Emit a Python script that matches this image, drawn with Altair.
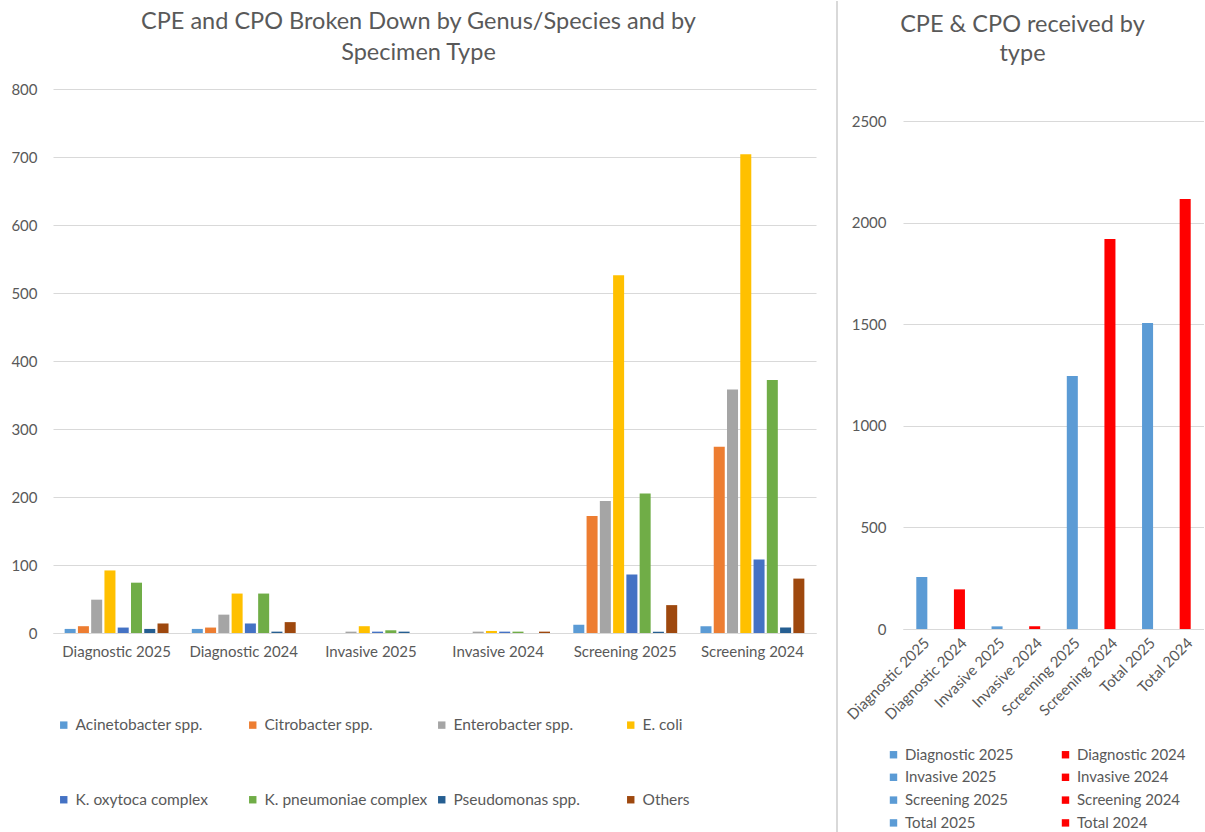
import altair as alt
import pandas as pd

categories = ["Diagnostic 2025", "Diagnostic 2024", "Invasive 2025", "Invasive 2024",
              "Screening 2025", "Screening 2024"]
organisms = ["Acinetobacter spp.", "Citrobacter spp.", "Enterobacter spp.", "E. coli",
             "K. oxytoca complex", "K. pneumoniae complex", "Pseudomonas spp.", "Others"]
org_colors = ["#5B9BD5", "#ED7D31", "#A5A5A5", "#FFC000", "#4472C4", "#70AD47", "#255E91", "#9E480E"]

acinetobacter = [6, 6, 0, 0, 12, 10]
citrobacter = [10, 8, 0, 0, 172, 274]
enterobacter = [49, 27, 2, 2, 194, 358]
e_coli = [92, 58, 10, 3, 526, 704]
k_oxytoca = [8, 14, 2, 2, 86, 108]
k_pneumoniae = [74, 58, 4, 2, 205, 372]
pseudomonas = [6, 2, 2, 0, 2, 8]
others = [14, 16, 0, 2, 41, 80]

type_labels = ["Diagnostic 2025", "Diagnostic 2024", "Invasive 2025", "Invasive 2024",
               "Screening 2025", "Screening 2024", "Total 2025", "Total 2024"]
type_totals = [256, 195, 13, 13, 1245, 1919, 1506, 2116]
type_colors = ["#5B9BD5", "#FF0000"] * 4

left_y_ticks = [0, 100, 200, 300, 400, 500, 600, 700, 800]
right_y_ticks = [0, 500, 1000, 1500, 2000, 2500]

series = [acinetobacter, citrobacter, enterobacter, e_coli, k_oxytoca, k_pneumoniae, pseudomonas, others]
rows = []
for org, vals in zip(organisms, series):
    for cat, v in zip(categories, vals):
        rows.append({"category": cat, "organism": org, "count": v})
df_left = pd.DataFrame(rows)
df_right = pd.DataFrame({"type": type_labels, "total": type_totals})

GRAY = "#595959"
GRID = "#D9D9D9"
FONT = "Lato"

left = alt.Chart(df_left).mark_bar().encode(
    x=alt.X("category:N", sort=categories,
            scale=alt.Scale(paddingInner=0.183, paddingOuter=0.0915),
            axis=alt.Axis(title=None, labelAngle=0, ticks=False, domainColor=GRID,
                          labelPadding=11, labelFontSize=15, labelColor=GRAY, labelFont=FONT)),
    xOffset=alt.XOffset("organism:N", sort=organisms,
                        scale=alt.Scale(paddingInner=0.17, paddingOuter=0)),
    y=alt.Y("count:Q", scale=alt.Scale(domain=[0, 800], nice=False),
            axis=alt.Axis(title=None, values=left_y_ticks, format="d", domain=False, ticks=False,
                          gridColor=GRID, labelPadding=16, labelFontSize=15, labelColor=GRAY,
                          labelFont=FONT, minExtent=45, maxExtent=45)),
    color=alt.Color("organism:N", sort=organisms,
                    scale=alt.Scale(domain=organisms, range=org_colors),
                    legend=alt.Legend(title=None, orient="none", legendX=3, legendY=628,
                                      direction="horizontal", columns=4, gridAlign="all",
                                      columnPadding=6, rowPadding=58, symbolType="square",
                                      symbolSize=55, symbolStrokeWidth=0, labelFontSize=15.5,
                                      labelColor=GRAY, labelFont=FONT, labelLimit=300, padding=0)),
).properties(
    width=763, height=544,
    title=alt.TitleParams(["CPE and CPO Broken Down by Genus/Species and by", "Specimen Type"],
                          anchor="middle", frame="group", dx=-16, offset=18, fontSize=23.5,
                          fontWeight="normal", color=GRAY, font=FONT, lineHeight=31),
)

right = alt.Chart(df_right).mark_bar().encode(
    x=alt.X("type:N", sort=type_labels,
            scale=alt.Scale(paddingInner=0.707, paddingOuter=0.3535),
            axis=alt.Axis(title=None, labelAngle=-45, ticks=False, domainColor=GRID,
                          labelPadding=6, labelFontSize=15, labelColor=GRAY, labelFont=FONT)),
    y=alt.Y("total:Q", scale=alt.Scale(domain=[0, 2657.5], nice=False),
            axis=alt.Axis(title=None, values=right_y_ticks, format="d", domain=False, ticks=False,
                          gridColor=GRID, labelPadding=17, labelFontSize=15, labelColor=GRAY,
                          labelFont=FONT)),
    color=alt.Color("type:N", sort=type_labels,
                    scale=alt.Scale(domain=type_labels, range=type_colors),
                    legend=alt.Legend(title=None, orient="none", legendX=-17, legendY=658,
                                      direction="horizontal", columns=2, gridAlign="all",
                                      columnPadding=44, rowPadding=6.8, symbolType="square",
                                      symbolSize=55, symbolStrokeWidth=0, labelFontSize=15,
                                      labelColor=GRAY, labelFont=FONT, labelLimit=300, padding=0)),
).properties(
    width=301, height=540,
    title=alt.TitleParams(["CPE & CPO received by", "type"],
                          anchor="middle", frame="group", dx=-31, offset=24, fontSize=23.5,
                          fontWeight="normal", color=GRAY, font=FONT, lineHeight=29),
)

separator = alt.Chart(pd.DataFrame({"k": [0]})).mark_rule(color=GRID, strokeWidth=2).encode(
    x=alt.value(0), y=alt.value(-88), y2=alt.value(744)
).properties(width=45, height=540)

chart = alt.hconcat(left, separator, right, spacing=21, bounds="flush").resolve_scale(
    color="independent"
).properties(
    padding={"left": 8, "top": 0, "right": 0, "bottom": 0},
).configure(font=FONT, background="white").configure_view(strokeWidth=0)

chart.save("out.html", embed_options={"renderer": "svg", "actions": False})
